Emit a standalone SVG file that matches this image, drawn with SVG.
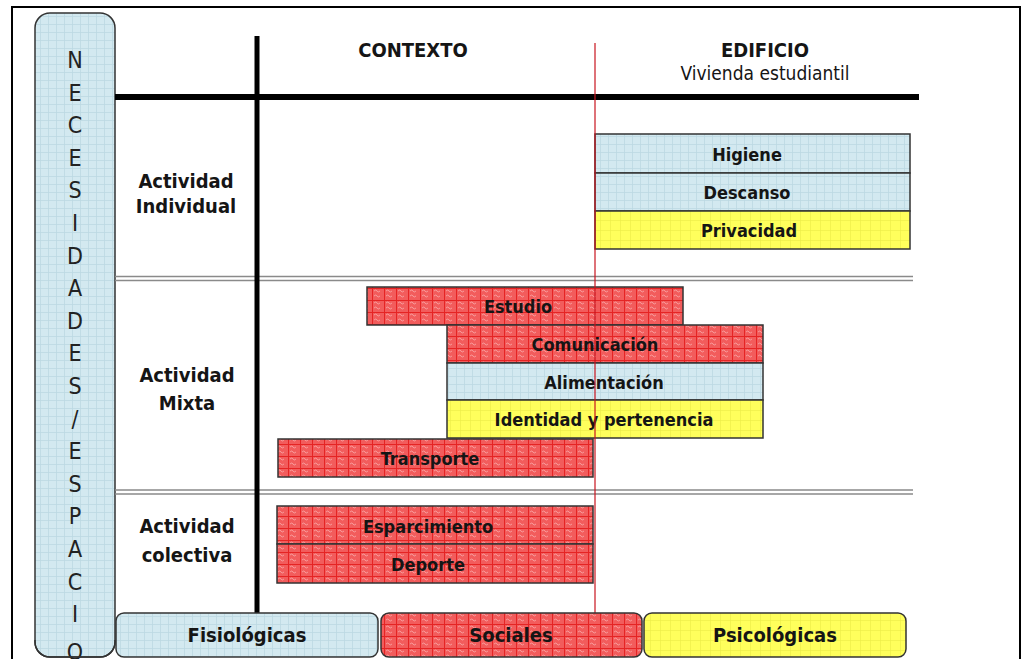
<svg xmlns="http://www.w3.org/2000/svg" width="1024" height="659" viewBox="0 0 1024 659">
<defs>
<pattern id="pBlue" width="8" height="8" patternUnits="userSpaceOnUse">
<rect width="8" height="8" fill="#d3e9f0"/>
<path d="M0 0.5H8M0.5 0V8" stroke="#bcd8e2" stroke-width="0.8"/>
</pattern>
<pattern id="pRed" width="12" height="12" patternUnits="userSpaceOnUse">
<rect width="12" height="12" fill="#f25c5c"/>
<path d="M2 3q2-2 3 0t3 0M2 8q2-2 3 0t3 0" stroke="#f8a3a3" stroke-width="0.9" fill="none"/>
<path d="M0 0.5H12M0.5 0V12" stroke="#e52424" stroke-width="1"/>
</pattern>
<pattern id="pYel" width="10" height="10" patternUnits="userSpaceOnUse">
<rect width="10" height="10" fill="#ffff5c"/>
<path d="M0 0.5H10M0.5 0V10" stroke="#eeee4a" stroke-width="0.7"/>
</pattern>
</defs>
<style>
.lbl{font-family:"DejaVu Sans Condensed","DejaVu Sans",sans-serif;font-stretch:condensed;font-weight:bold;font-size:18px;fill:#151515;text-anchor:middle}
.hd{font-family:"DejaVu Sans Condensed","DejaVu Sans",sans-serif;font-stretch:condensed;font-weight:bold;font-size:20px;fill:#151515;text-anchor:middle}
.sub{font-family:"DejaVu Sans Condensed","DejaVu Sans",sans-serif;font-stretch:condensed;font-size:19px;fill:#151515;text-anchor:middle}
.vert{font-family:"DejaVu Sans Condensed","DejaVu Sans",sans-serif;font-stretch:condensed;font-size:23px;fill:#222;text-anchor:middle}
.box{stroke:#333;stroke-width:1.5}
.b{fill:url(#pBlue)}
.r{fill:url(#pRed)}
.y{fill:url(#pYel)}
</style>
<rect x="0" y="0" width="1024" height="659" fill="#fff"/>
<rect x="12" y="7" width="1008" height="680" fill="none" stroke="#000" stroke-width="2"/>

<g id="necesidades">
<rect class="box b" x="35" y="13" width="80" height="644" rx="15"/>
<text class="vert" x="75" y="68">N</text>
<text class="vert" x="75" y="100.6">E</text>
<text class="vert" x="75" y="133.2">C</text>
<text class="vert" x="75" y="165.8">E</text>
<text class="vert" x="75" y="198.4">S</text>
<text class="vert" x="75" y="231">I</text>
<text class="vert" x="75" y="263.6">D</text>
<text class="vert" x="75" y="296.2">A</text>
<text class="vert" x="75" y="328.8">D</text>
<text class="vert" x="75" y="361.4">E</text>
<text class="vert" x="75" y="394">S</text>
<text class="vert" x="75" y="426.6">/</text>
<text class="vert" x="75" y="459.2">E</text>
<text class="vert" x="75" y="491.8">S</text>
<text class="vert" x="75" y="524.4">P</text>
<text class="vert" x="75" y="557">A</text>
<text class="vert" x="75" y="589.6">C</text>
<text class="vert" x="75" y="622.2">I</text>
<text class="vert" x="75" y="660">O</text>
<path d="M35 640V642a15 15 0 0 0 15 15H100a15 15 0 0 0 15-15V640" fill="none" stroke="#333" stroke-width="1.5"/>
</g>

<g id="headers">
<text class="hd" x="413" y="57">CONTEXTO</text>
<text class="hd" x="765" y="57">EDIFICIO</text>
<text class="sub" x="765" y="80">Vivienda estudiantil</text>
</g>

<g id="rows">
<text class="hd" x="186" y="188">Actividad</text>
<text class="hd" x="186" y="213">Individual</text>
<text class="hd" x="187" y="382">Actividad</text>
<text class="hd" x="187" y="410">Mixta</text>
<text class="hd" x="187" y="533">Actividad</text>
<text class="hd" x="187" y="562">colectiva</text>
</g>

<g id="lines">
<path d="M115 276.5H913M115 280.5H913" stroke="#8a8a8a" stroke-width="1.5"/>
<path d="M115 490H913M115 494H913" stroke="#8a8a8a" stroke-width="1.5"/>
<path d="M115 97H919" stroke="#000" stroke-width="6"/>
<path d="M257 36V613" stroke="#000" stroke-width="5"/>
</g>

<g id="higiene"><rect class="box b" x="595" y="134" width="315" height="39"/><text class="lbl" x="747" y="161">Higiene</text></g>
<g id="descanso"><rect class="box b" x="595" y="173" width="315" height="38"/><text class="lbl" x="747" y="199">Descanso</text></g>
<g id="privacidad"><rect class="box y" x="595" y="211" width="315" height="38"/><text class="lbl" x="749" y="237">Privacidad</text></g>

<g id="estudio"><rect class="box r" x="367" y="287" width="316" height="38"/><text class="lbl" x="518" y="313">Estudio</text></g>
<g id="comunicacion"><rect class="box r" x="447" y="325" width="316" height="38"/><text class="lbl" x="595" y="351">Comunicación</text></g>
<g id="alimentacion"><rect class="box b" x="447" y="363" width="316" height="37"/><text class="lbl" x="604" y="389">Alimentación</text></g>
<g id="identidad"><rect class="box y" x="447" y="400" width="316" height="38"/><text class="lbl" x="604" y="426">Identidad y pertenencia</text></g>
<g id="transporte"><rect class="box r" x="278" y="439" width="315" height="38"/><text class="lbl" x="430" y="465">Transporte</text></g>

<g id="esparcimiento"><rect class="box r" x="277" y="506" width="316" height="38"/><text class="lbl" x="428" y="533">Esparcimiento</text></g>
<g id="deporte"><rect class="box r" x="277" y="544" width="316" height="39"/><text class="lbl" x="428" y="571">Deporte</text></g>

<g id="redline"><path d="M595 43V613" stroke="#c8141e" stroke-width="1.2"/></g>

<g id="fisiologicas"><rect class="box b" x="116" y="613" width="262" height="44" rx="8"/><text class="hd" x="247" y="642">Fisiológicas</text></g>
<g id="sociales"><rect class="box r" x="381" y="613" width="261" height="44" rx="8"/><text class="hd" x="511" y="642">Sociales</text></g>
<g id="psicologicas"><rect class="box y" x="644" y="613" width="262" height="44" rx="8"/><text class="hd" x="775" y="642">Psicológicas</text></g>
</svg>
